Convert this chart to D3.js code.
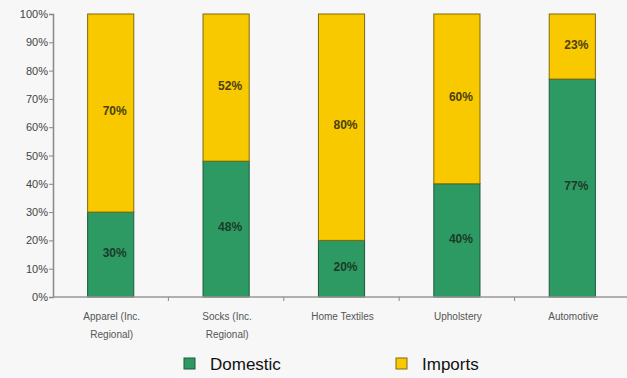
<!DOCTYPE html>
<html lang="en">
<head>
  <meta charset="UTF-8">
  <title>Domestic vs Imports</title>
  <script src="https://d3js.org/d3.v7.min.js"></script>
  <style>
    body { margin: 0; background: #f7f7f7; }
    svg { display: block; font-family: "Liberation Sans", Arial, sans-serif; }
  </style>
</head>
<body>
<svg id="chart" width="627" height="378"></svg>
<script>
// data
var categories = [["Apparel (Inc.", "Regional)"], ["Socks (Inc.", "Regional)"], ["Home Textiles"], ["Upholstery"], ["Automotive"]];
var domestic = [30, 48, 20, 40, 77];
var imports = [70, 52, 80, 60, 23];
var yTicks = [0, 10, 20, 30, 40, 50, 60, 70, 80, 90, 100];
var seriesNames = ["Domestic", "Imports"];
var seriesColors = ["#2e9a63", "#f9c900"];
var strokeColors = ["#1d5a3a", "#7d6a10"];

var svg = d3.select("#chart");
var x = d3.scaleBand().domain(d3.range(categories.length)).range([53, 630]).paddingInner(0.6).paddingOuter(0.3);
var y = d3.scaleLinear().domain([0, 100]).range([297, 14]);

// y axis
var yAxis = svg.append("g").attr("transform", "translate(53,0)")
  .call(d3.axisLeft(y).tickValues(yTicks).tickSize(4).tickFormat(function (d) { return d + "%"; }));
yAxis.select(".domain").attr("stroke", "#888").attr("stroke-width", 1.5);
yAxis.selectAll(".tick line").attr("stroke", "#888");
yAxis.selectAll(".tick text").attr("fill", "#444").attr("font-size", 11).attr("x", -5);

// bars
var stack = categories.map(function (c, i) {
  return [{ y0: 0, y1: domestic[i], s: 0 }, { y0: domestic[i], y1: domestic[i] + imports[i], s: 1 }];
});
var groups = svg.selectAll(".cat").data(stack).enter().append("g").attr("class", "cat");
groups.selectAll("rect").data(function (d, i) { return d.map(function (e) { e.i = i; return e; }); })
  .enter().append("rect")
  .attr("x", function (d) { return x(d.i); })
  .attr("width", x.bandwidth())
  .attr("y", function (d) { return y(d.y1); })
  .attr("height", function (d) { return y(d.y0) - y(d.y1); })
  .attr("fill", function (d) { return seriesColors[d.s]; })
  .attr("stroke", function (d) { return strokeColors[d.s]; })
  .attr("stroke-width", 1);
groups.selectAll("text").data(function (d) { return d; })
  .enter().append("text")
  .attr("x", function (d) { return x(d.i) + x.bandwidth() / 2 + 4; })
  .attr("y", function (d) { return (y(d.y0) + y(d.y1)) / 2 - 2; })
  .attr("dy", "0.35em")
  .attr("text-anchor", "middle")
  .attr("font-size", 12)
  .attr("font-weight", "bold")
  .attr("fill", function (d) { return d.s === 0 ? "#1c3a28" : "#4a3f10"; })
  .text(function (d) { return (d.y1 - d.y0) + "%"; });

// x axis
var xAxis = svg.append("g").attr("transform", "translate(0,297)");
xAxis.append("line").attr("x1", 53).attr("x2", 627).attr("stroke", "#999").attr("stroke-width", 1.5);
xAxis.selectAll(".xt").data(d3.range(1, categories.length)).enter().append("line")
  .attr("x1", function (i) { return x(i) - x.step() * x.paddingInner() / 2; })
  .attr("x2", function (i) { return x(i) - x.step() * x.paddingInner() / 2; })
  .attr("y1", 0).attr("y2", 4).attr("stroke", "#888");
var lbl = svg.selectAll(".xl").data(categories).enter().append("text")
  .attr("text-anchor", "middle")
  .attr("font-size", 10)
  .attr("fill", "#555");
lbl.each(function (lines, i) {
  var t = d3.select(this);
  lines.forEach(function (l, k) {
    t.append("tspan").attr("x", x(i) + x.bandwidth() / 2 + 1).attr("y", 320 + k * 18).text(l);
  });
});

// legend
var legendX = [184, 396];
var leg = svg.selectAll(".leg").data(seriesNames).enter().append("g")
  .attr("transform", function (d, i) { return "translate(" + legendX[i] + ",358)"; });
leg.append("rect").attr("width", 11).attr("height", 11)
  .attr("fill", function (d, i) { return seriesColors[i]; })
  .attr("stroke", function (d, i) { return strokeColors[i]; });
leg.append("text").attr("x", 26).attr("y", 12).attr("font-size", 17).attr("fill", "#111").text(function (d) { return d; });
</script>
</body>
</html>
